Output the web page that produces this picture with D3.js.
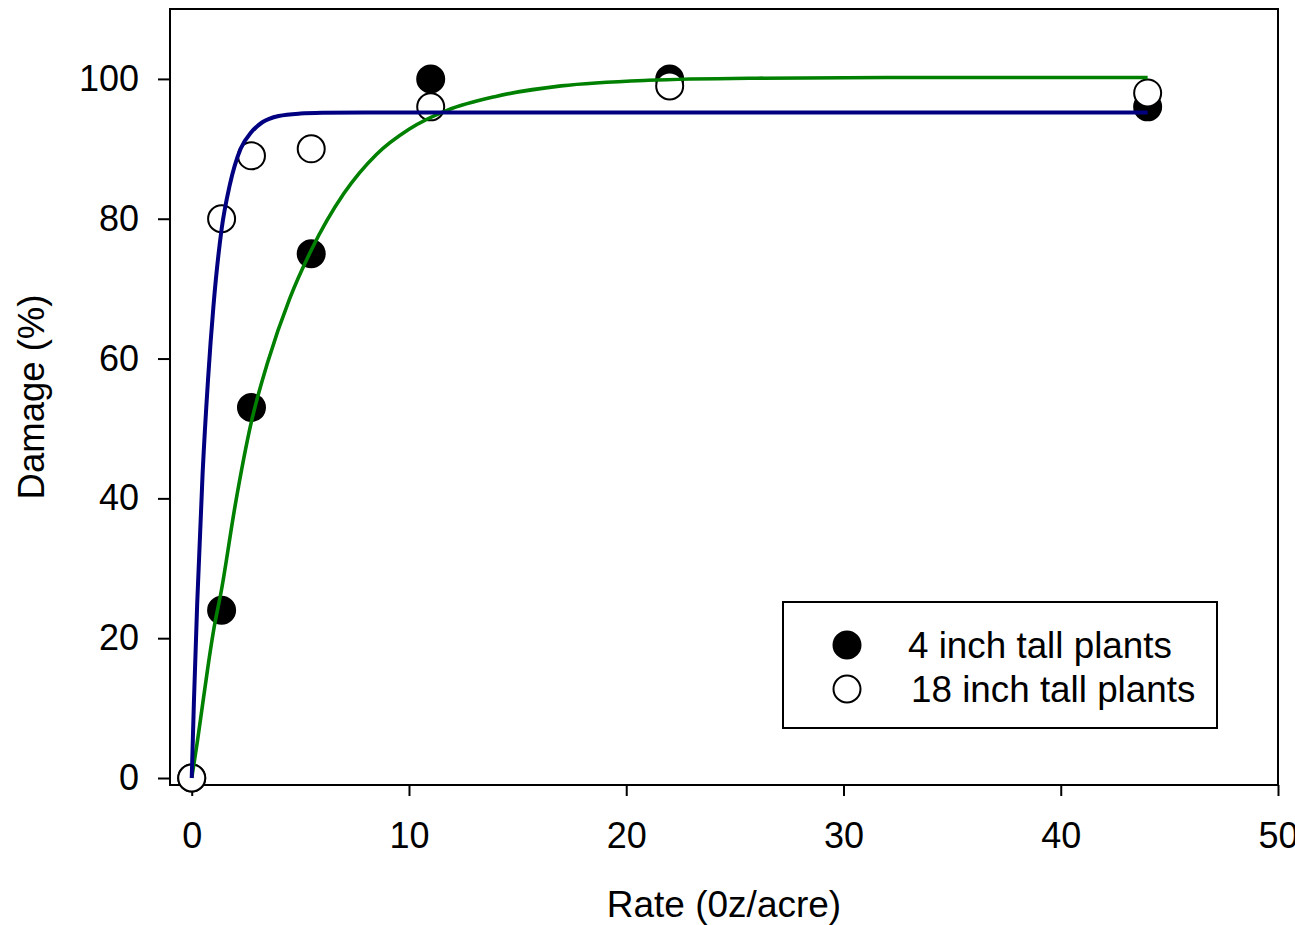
<!DOCTYPE html>
<html lang="en">
<head>
<meta charset="utf-8">
<title>Damage vs Rate</title>
<script src="https://cdn.jsdelivr.net/npm/d3@7"></script>
<style>
  body { margin: 0; background: #fff; }
  text { font-family: "Liberation Sans", Arial, sans-serif; }
</style>
</head>
<body>
<div id="chart"></div>
<script>
// measured points
var rates = [0, 1.375, 2.75, 5.5, 11, 22, 44];
var damage4in = [0, 24, 53, 75, 100, 100, 96];
var damage18in = [0, 80, 89, 90, 96, 99, 98];

// fitted curves
var fit4x = [0, 0.25, 0.5, 0.75, 1, 1.375, 2, 2.75, 3.5, 4.5, 5.5, 7, 8.5, 10, 11.75, 14, 17, 21, 26, 32, 44];
var fit4y = [0, 5, 10.5, 16, 21, 27, 39, 51, 59.5, 68.5, 75.5, 83.6, 89.2, 92.8, 95.5, 97.5, 99, 99.8, 100.1, 100.2, 100.2];
var fit18x = [0, 0.1, 0.25, 0.5, 0.75, 1, 1.375, 1.75, 2.25, 2.75, 3.25, 4, 5, 6, 8, 12, 20, 44];
var fit18y = [0, 10.8, 24.8, 43.5, 57, 67.5, 78.5, 84.8, 90, 92.4, 93.8, 94.7, 95.05, 95.15, 95.2, 95.2, 95.2, 95.2];

var xTicks = [0, 10, 20, 30, 40, 50];
var yTicks = [0, 20, 40, 60, 80, 100];
var legendLabels = ["4 inch tall plants", "18 inch tall plants"];

var W = 1295, H = 925;
var margin = {top: 9, right: 17, bottom: 140, left: 170};
var w = W - margin.left - margin.right,
    h = H - margin.top - margin.bottom;

var svg = d3.select("#chart").append("svg")
    .attr("width", W)
    .attr("height", H);

var g = svg.append("g")
    .attr("transform", "translate(" + margin.left + "," + margin.top + ")");

var x = d3.scaleLinear().domain([-1, 50]).range([0, w]);
var y = d3.scaleLinear().domain([-1, 110]).range([h, 0]);

// axes
var xAxis = g.append("g")
    .attr("transform", "translate(0," + h + ")")
    .call(d3.axisBottom(x).tickValues(xTicks).tickSize(11).tickPadding(26).tickSizeOuter(0));
var yAxis = g.append("g")
    .call(d3.axisLeft(y).tickValues(yTicks).tickSize(12).tickPadding(19).tickSizeOuter(0));

[xAxis, yAxis].forEach(function(a) {
  a.select(".domain").remove();
  a.selectAll("line").attr("stroke", "#000").attr("stroke-width", 2);
  a.selectAll("text").attr("font-size", "36px").attr("fill", "#000")
    .attr("font-family", "'Liberation Sans', Arial, sans-serif");
});

// frame
g.append("rect")
    .attr("x", 0).attr("y", 0)
    .attr("width", w).attr("height", h)
    .attr("fill", "none")
    .attr("stroke", "#000")
    .attr("stroke-width", 2);

// markers: filled first, then open ones on top
g.selectAll("circle.s4")
    .data(rates)
    .enter().append("circle")
    .attr("class", "s4")
    .attr("cx", function(d) { return x(d); })
    .attr("cy", function(d, i) { return y(damage4in[i]); })
    .attr("r", 13.5)
    .attr("fill", "#000")
    .attr("stroke", "#000")
    .attr("stroke-width", 2);

g.selectAll("circle.s18")
    .data(rates)
    .enter().append("circle")
    .attr("class", "s18")
    .attr("cx", function(d) { return x(d); })
    .attr("cy", function(d, i) { return y(damage18in[i]); })
    .attr("r", 13.5)
    .attr("fill", "#fff")
    .attr("stroke", "#000")
    .attr("stroke-width", 2);

// curves
var line = d3.line()
    .x(function(d) { return x(d[0]); })
    .y(function(d) { return y(d[1]); })
    .curve(d3.curveMonotoneX);

g.append("path")
    .datum(d3.zip(fit4x, fit4y))
    .attr("d", line)
    .attr("fill", "none")
    .attr("stroke", "#008000")
    .attr("stroke-width", 3.6);

g.append("path")
    .datum(d3.zip(fit18x, fit18y))
    .attr("d", line)
    .attr("fill", "none")
    .attr("stroke", "#000080")
    .attr("stroke-width", 4);

// axis titles
svg.append("text")
    .attr("x", margin.left + w / 2)
    .attr("y", 917)
    .attr("text-anchor", "middle")
    .attr("font-size", "37px")
    .text("Rate (0z/acre)");

svg.append("text")
    .attr("transform", "translate(44," + (margin.top + h / 2) + ") rotate(-90)")
    .attr("text-anchor", "middle")
    .attr("font-size", "36.5px")
    .text("Damage (%)");

// legend
var legend = svg.append("g");
legend.append("rect")
    .attr("x", 783).attr("y", 602)
    .attr("width", 434).attr("height", 126)
    .attr("fill", "#fff")
    .attr("stroke", "#000")
    .attr("stroke-width", 2);

var legendItems = legend.selectAll("g.item")
    .data(legendLabels)
    .enter().append("g")
    .attr("class", "item")
    .attr("transform", function(d, i) { return "translate(847," + (645 + i * 44) + ")"; });

legendItems.append("circle")
    .attr("r", 13.5)
    .attr("fill", function(d, i) { return i === 0 ? "#000" : "#fff"; })
    .attr("stroke", "#000")
    .attr("stroke-width", 2);

legendItems.append("text")
    .attr("x", function(d, i) { return i === 0 ? 61 : 64; })
    .attr("y", 13)
    .attr("font-size", "36.8px")
    .text(function(d) { return d; });
</script>
</body>
</html>
